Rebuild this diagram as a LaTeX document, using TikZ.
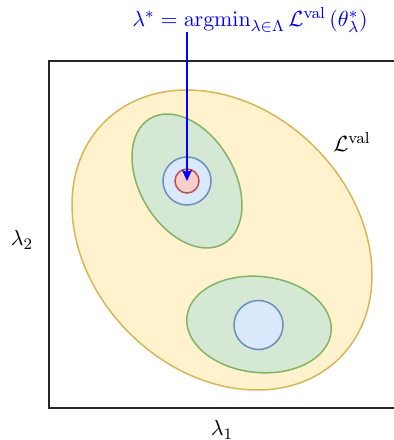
\documentclass[tikz,border=0pt]{standalone}
\usepackage{amsmath}
\usetikzlibrary{shapes.geometric,arrows.meta}
\definecolor{yfill}{HTML}{FFF2CC}
\definecolor{ydraw}{HTML}{D6B656}
\definecolor{gfill}{HTML}{D5E8D4}
\definecolor{gdraw}{HTML}{82B366}
\definecolor{bfill}{HTML}{DAE8FC}
\definecolor{bdraw}{HTML}{6C8EBF}
\definecolor{rfill}{HTML}{F8CECC}
\definecolor{rdraw}{HTML}{B85450}
\definecolor{arrowblue}{HTML}{0000FF}
\tikzset{
  region/.style={ellipse, inner sep=0pt, outer sep=0pt, line width=0.75pt},
  yellowreg/.style={region, draw=ydraw, fill=yfill},
  greenreg/.style={region, draw=gdraw, fill=gfill},
  bluereg/.style={circle, inner sep=0pt, outer sep=0pt, line width=0.75pt, draw=bdraw, fill=bfill},
  redreg/.style={circle, inner sep=0pt, outer sep=0pt, line width=0.75pt, draw=rdraw, fill=rfill},
  axislabel/.style={inner sep=0pt, font=\fontsize{10.9}{13}\selectfont},
}
\begin{document}
\begin{tikzpicture}[x=0.5pt,y=0.5pt]
\useasboundingbox (0,0) rectangle (394,440);
\fill[white] (0,0) rectangle (394,440);
% frame (right side lies outside the picture)
\draw[line width=1pt, black!85] (400,379) -- (49,379) -- (49,32) -- (400,32);
% regions
\node[yellowreg, minimum width=166.6pt, minimum height=131.3pt, rotate=-45] (yel) at (222,200) {};
\node[greenreg, minimum width=72.6pt, minimum height=47.3pt, rotate=-59.4] (g1) at (187,259) {};
\node[greenreg, minimum width=72.5pt, minimum height=48pt, rotate=-6] (g2) at (259,115.5) {};
\node[bluereg, minimum size=24pt] (b1) at (187,259) {};
\node[redreg, minimum size=12pt] (r1) at (187,259) {};
\node[bluereg, minimum size=24.5pt] (b2) at (258.5,115) {};
% labels
\node[axislabel] (lone) at (222,10) {$\lambda_1$};
\node[axislabel] (ltwo) at (22,200) {$\lambda_2$};
\node[axislabel] (lval) at (352,298) {$\mathcal{L}^{\mathrm{val}}$};
\node[axislabel, text=arrowblue] (opt) at (250,420) {$\lambda^* = \operatorname{argmin}_{\lambda\in\Lambda}\mathcal{L}^{\mathrm{val}}\left(\theta^*_\lambda\right)$};
\coordinate (arrstart) at (187,408);
\draw[arrowblue, line width=0.75pt, -{Stealth[length=5.5pt,width=5pt,inset=1pt]}] (arrstart) -- (r1.center);
\end{tikzpicture}
\end{document}
